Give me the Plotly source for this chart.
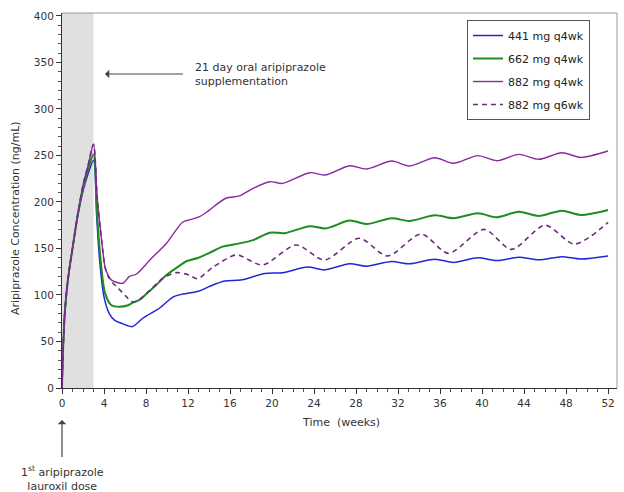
import plotly.graph_objects as go

# ---- data ----
w_441 = [0, 0.1, 0.25, 0.45, 0.7, 1.0, 1.5, 2.0, 2.5, 3.0, 3.3, 3.6, 4.0, 4.5, 5.0, 5.8, 6.7, 7.7,
         9.3, 10.6, 11.5, 13.0, 14.0, 15.5, 17.0, 19.3, 21.0, 23.4, 25.0, 27.4, 29.0, 31.4, 33.1,
         35.5, 37.3, 39.6, 41.4, 43.5, 45.4, 47.6, 49.4, 52.0]
c_441 = [0, 40, 78, 105, 128, 150, 185, 212, 231, 245, 185, 135, 98, 80, 73, 69, 66, 75,
         86, 98, 101, 104, 109, 115, 116, 123, 124, 130, 127, 133.5, 131, 136, 133.5,
         138.5, 135, 140, 137, 140.5, 137.8, 141.2, 138.7, 142]

w_662 = [0, 0.1, 0.25, 0.45, 0.7, 1.0, 1.5, 2.0, 2.5, 3.0, 3.35, 3.7, 4.1, 4.7, 5.5, 6.3, 6.7, 7.4,
         8.3, 9.0, 10.0, 11.0, 11.8, 13.0, 14.0, 15.3, 16.9, 18.2, 19.8, 21.2, 23.6, 25.1, 27.4,
         29.0, 31.4, 33.1, 35.5, 37.3, 39.6, 41.4, 43.5, 45.4, 47.6, 49.4, 52.0]
c_662 = [0, 40, 78, 105, 128, 150, 186, 214, 236, 251, 185, 135, 102, 89, 87.4, 89, 91.5, 95,
         104, 111, 122, 130, 136, 140, 145, 152, 155.5, 159, 167, 166.5, 174, 171.5, 180,
         176.3, 182.5, 179.6, 185.7, 182.5, 187.8, 183.5, 189.6, 185, 190.7, 186, 191.4]

w_882 = [0, 0.1, 0.25, 0.45, 0.7, 1.0, 1.5, 2.0, 2.5, 3.0, 3.35, 3.77, 4.1, 4.4, 4.72, 5.8, 6.4,
         7.1, 8.37, 9.95, 11.5, 12.2, 13.1, 14.0, 15.6, 16.9, 18.2, 19.8, 21.0,
         23.6, 25.1, 27.4, 29.0, 31.4, 33.1, 35.5, 37.3, 39.6, 41.4, 43.5, 45.4, 47.6, 49.4, 52.0]
c_882 = [0, 40, 78, 105, 128, 150, 187, 218, 240, 262, 205, 159, 130, 121, 116, 112.6, 119.7,
         122.6, 137.6, 155.6, 178.5, 181, 184.2, 191, 204, 206.5, 214.7, 221.8, 220,
         231.5, 229, 239, 235.5, 244, 238.7, 247.6, 241.6, 249.8, 244.4, 251.2, 245.9, 253, 248, 254.8]

w_882q6 = [0, 0.1, 0.25, 0.45, 0.7, 1.0, 1.5, 2.0, 2.5, 3.0, 3.35, 3.77, 4.1, 4.4, 4.9, 5.2, 6.15,
           6.6, 7.1, 8.37, 9.6, 10.9, 12.1, 12.9, 14.4, 16.6, 19.1, 22.3, 25.0, 28.3, 31.0,
           34.2, 36.8, 40.2, 42.8, 46.0, 48.8, 52.0]
c_882q6 = [0, 40, 78, 105, 128, 150, 187, 218, 240, 262, 205, 159, 130, 120, 112, 109, 98,
           93, 93, 105, 118, 124, 121.5, 117.5, 130, 143, 132.3, 153.8, 137.6, 161, 142,
           165.6, 144.8, 170.5, 149, 175, 154.8, 178]

series = [
    ("441 mg q4wk", w_441, c_441, "#2424d8", 1.5, "solid"),
    ("662 mg q4wk", w_662, c_662, "#1f8c1f", 2.0, "solid"),
    ("882 mg q4wk", w_882, c_882, "#8a2a9e", 1.4, "solid"),
    ("882 mg q6wk", w_882q6, c_882q6, "#6e2c80", 1.6, "5px,4px"),
]

x_ticks = list(range(0, 53, 4))
y_ticks = list(range(0, 401, 50))

FONT = "DejaVu Sans"

fig = go.Figure()
for i, (name, xs, ys, col, wd, dash) in enumerate(series):
    fig.add_trace(go.Scatter(
        x=xs, y=ys, mode="lines", name=name, legendgroup=f"g{i}",
        line=dict(color=col, width=wd, dash=dash, shape="spline", smoothing=0.8),
    ))

fig.update_layout(
    width=624, height=492,
    margin=dict(l=62, r=7, t=13, b=104),
    paper_bgcolor="white", plot_bgcolor="white",
    font=dict(family=FONT, size=11, color="#333"),
    showlegend=True,
    legend=dict(
        x=0.7297, y=0.9813, xanchor="left", yanchor="top",
        bordercolor="#555", borderwidth=1, bgcolor="white",
        font=dict(family=FONT, size=11, color="#222"),
        tracegroupgap=4, entrywidth=100,
    ),
    xaxis=dict(
        range=[0, 52.85], tickvals=x_ticks, ticktext=[str(v) for v in x_ticks],
        showgrid=False, zeroline=False,
        showline=True, linecolor="#333", linewidth=1,
        ticks="outside", ticklen=5, tickcolor="#333",
        minor=dict(dtick=1, ticks="outside", ticklen=3, tickcolor="#555"),
        tickfont=dict(size=10.5, color="#333"),
    ),
    yaxis=dict(
        range=[0, 403.2], tickvals=y_ticks, ticktext=[str(v) for v in y_ticks],
        showgrid=False, zeroline=False,
        showline=True, linecolor="#333", linewidth=1,
        ticks="outside", ticklen=5, tickcolor="#333",
        minor=dict(dtick=10, ticks="outside", ticklen=3, tickcolor="#555"),
        tickfont=dict(size=10.5, color="#333"),
    ),
    shapes=[
        dict(type="rect", xref="x", yref="paper", x0=0, x1=3, y0=0, y1=1,
             fillcolor="#e0e0e0", line=dict(width=0), layer="below"),
        dict(type="line", xref="paper", yref="paper", x0=0, x1=1, y0=1, y1=1,
             line=dict(color="#999", width=1)),
        dict(type="line", xref="paper", yref="paper", x0=1, x1=1, y0=0, y1=1,
             line=dict(color="#999", width=1)),
    ],
    annotations=[
        dict(text="Aripiprazole Concentration (ng/mL)", xref="paper", yref="paper",
             x=-0.0847, y=0.4533, textangle=-90, showarrow=False,
             xanchor="center", yanchor="middle", font=dict(size=11, color="#333")),
        dict(text="Time  (weeks)", xref="paper", yref="paper",
             x=0.5027, y=-0.0933, showarrow=False,
             xanchor="center", yanchor="middle", font=dict(size=11, color="#333")),
        dict(text="21 day oral aripiprazole<br>supplementation",
             x=4.09, y=337.6, xref="x", yref="y", ax=88, ay=0,
             xanchor="left", yanchor="middle", align="left",
             showarrow=True, arrowhead=1, arrowsize=1.2, arrowwidth=1.2,
             arrowcolor="#444", startstandoff=10,
             font=dict(size=11, color="#333")),
        dict(text="1<sup>st</sup> aripiprazole<br>lauroxil dose",
             x=0, y=-0.0853, xref="paper", yref="paper", ax=0, ay=59,
             xanchor="center", yanchor="middle", align="center",
             showarrow=True, arrowhead=1, arrowsize=1.2, arrowwidth=1.2,
             arrowcolor="#444", startstandoff=6,
             font=dict(size=11, color="#333")),
    ],
)

fig.write_html("out.html", config={"displayModeBar": False},
               post_script="document.body.style.margin='0px';")
